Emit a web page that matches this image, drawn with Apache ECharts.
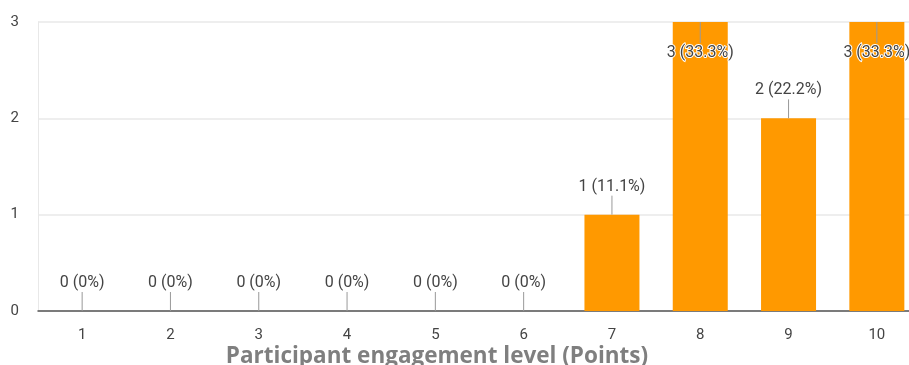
<!DOCTYPE html>
<html>
<head>
<meta charset="utf-8">
<script src="https://cdn.jsdelivr.net/npm/echarts@6/dist/echarts.min.js"></script>
<style>
  html, body { margin: 0; padding: 0; background: #fff; }
  #chart { width: 909px; height: 365px; }
</style>
</head>
<body>
<div id="chart"></div>
<script>
// engagement points and number of participants
const categories = ['1', '2', '3', '4', '5', '6', '7', '8', '9', '10']
const counts = [0, 0, 0, 0, 0, 0, 1, 3, 2, 3]
const percents = ['0%', '0%', '0%', '0%', '0%', '0%', '11.1%', '33.3%', '22.2%', '33.3%']
const yTicks = [0, 1, 2, 3]

const labelTexts = counts.map((c, i) => c + ' (' + percents[i] + ')')
const yMax = yTicks[yTicks.length - 1]

let myChart = echarts.init(document.getElementById('chart'))

const option = {
  animation: false,
  // plot area runs past the right edge of the picture
  grid: { left: 38, width: 883, top: 22, bottom: 54, containLabel: false, outerBoundsMode: 'none' },
  xAxis: {
    type: 'category',
    data: categories,
    axisLine: { show: true, lineStyle: { color: '#555', width: 1.5 } },
    axisTick: { show: false },
    axisLabel: { color: '#444', fontSize: 15, fontFamily: 'Roboto', margin: 17 },
    splitLine: { show: false }
  },
  yAxis: {
    type: 'value',
    min: 0,
    max: yMax,
    interval: 1,
    axisLine: { show: true, lineStyle: { color: '#e8e8e8' } },
    axisTick: { show: false },
    axisLabel: { color: '#444', fontSize: 15, fontFamily: 'Roboto', margin: 19 },
    splitLine: { lineStyle: { color: '#e8e8e8', width: 1.5 } }
  },
  series: [
    {
      type: 'bar',
      data: counts,
      barWidth: 55,
      itemStyle: { color: '#ff9900' }
    },
    {
      // value labels with small leader lines
      type: 'custom',
      data: counts.map((c, i) => [i, c]),
      z: 5,
      renderItem: function (params, api) {
        const i = api.value(0)
        const v = api.value(1)
        const p = api.coord([i, v])
        const inside = v >= yMax
        const lineEnd = inside ? p[1] + 21 : p[1] - 19
        const textY = inside ? p[1] + 31 : p[1] - 28
        return {
          type: 'group',
          children: [
            {
              type: 'line',
              shape: { x1: p[0], y1: p[1], x2: p[0], y2: lineEnd },
              style: { stroke: '#999', lineWidth: 1 }
            },
            {
              type: 'text',
              style: {
                x: p[0],
                y: textY,
                text: labelTexts[i],
                fill: '#444',
                font: '16px Roboto',
                align: 'center',
                verticalAlign: 'middle',
                stroke: '#fff',
                lineWidth: 2
              }
            }
          ]
        }
      }
    }
  ],
  graphic: [
    {
      type: 'text',
      x: 437,
      y: 357,
      style: {
        text: 'Participant engagement level (Points)',
        fill: '#7f7f7f',
        font: 'bold 22.5px "Open Sans"',
        align: 'center',
        verticalAlign: 'middle'
      }
    }
  ]
}

myChart.setOption(option)
window.onresize = () => {
  myChart.resize()
}
</script>
</body>
</html>
